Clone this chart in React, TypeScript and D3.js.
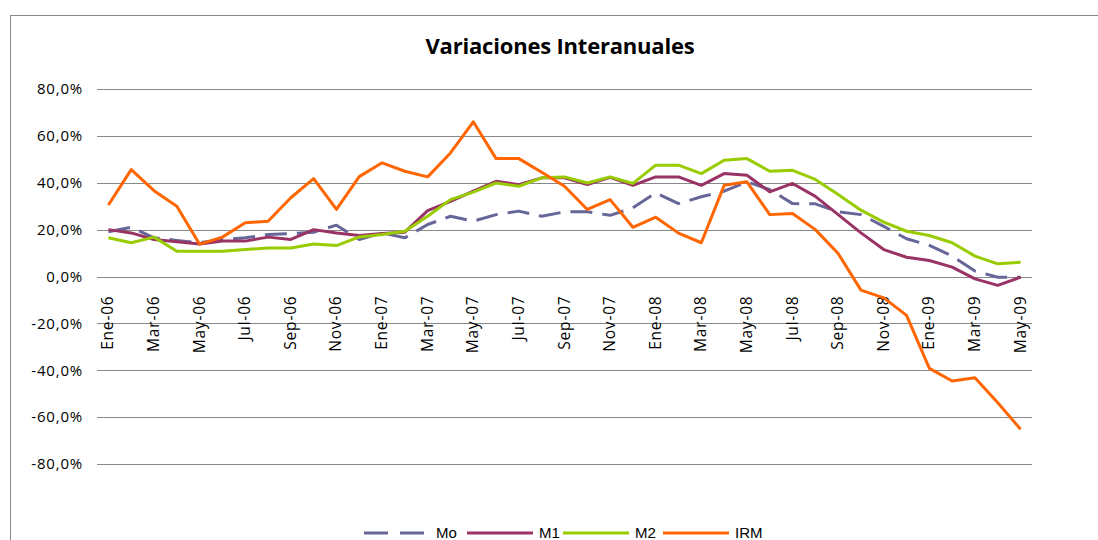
import * as d3 from "d3";

const months = ["Ene", "Feb", "Mar", "Abr", "May", "Jun", "Jul", "Ago", "Sep", "Oct", "Nov", "Dic"];
const years = ["06", "07", "08", "09"];
const categories: string[] = [];
years.forEach((y) => months.forEach((m) => categories.push(`${m}-${y}`)));
categories.splice(41);

const moValues = [
  19.1, 21.0, 16.5, 15.4, 14.4, 15.8, 16.5, 17.9, 18.3, 18.9, 21.9, 15.8,
  18.6, 16.5, 22.2, 25.7, 23.6, 26.4, 27.9, 25.7, 27.6, 27.6, 26.1, 29.3,
  35.7, 31.1, 34.0, 36.4, 40.4, 37.1, 31.1, 31.0, 27.6, 26.4, 21.4, 16.1,
  13.3, 8.7, 2.3, -0.3, -0.3,
];
const m1Values = [
  20.0, 18.6, 15.8, 14.8, 13.9, 15.1, 15.1, 16.8, 15.8, 20.0, 18.6, 17.5,
  18.3, 18.9, 28.1, 32.1, 36.4, 40.6, 39.2, 42.1, 42.1, 39.2, 42.3, 38.9,
  42.5, 42.5, 38.9, 43.9, 43.2, 36.1, 39.7, 34.2, 26.4, 18.6, 11.5, 8.2,
  6.8, 4.0, -1.0, -3.8, -0.3,
];
const m2Values = [
  16.5, 14.4, 16.8, 10.8, 10.8, 10.8, 11.5, 12.2, 12.2, 13.9, 13.2, 16.9,
  17.9, 19.3, 25.7, 32.8, 36.0, 39.9, 38.5, 42.1, 42.5, 39.9, 42.5, 39.7,
  47.5, 47.5, 43.9, 49.6, 50.3, 44.9, 45.3, 41.4, 35.0, 28.3, 23.2, 19.3,
  17.5, 14.4, 8.7, 5.4, 6.1,
];
const irmValues = [
  30.5, 45.6, 36.6, 30.0, 13.8, 16.8, 22.9, 23.6, 33.6, 41.8, 28.6, 42.6,
  48.5, 44.9, 42.5, 52.7, 66.0, 50.3, 50.3, 44.5, 38.5, 28.6, 32.8, 21.0,
  25.3, 18.5, 14.4, 38.9, 40.4, 26.4, 26.9, 20.0, 9.8, -5.8, -9.1, -16.6,
  -39.2, -44.6, -43.2, -53.9, -65.2,
];
const yTicks = [80, 60, 40, 20, 0, -20, -40, -60, -80];

const series = [
  { name: "Mo", values: moValues, color: "#666699", dash: "22,10" },
  { name: "M1", values: m1Values, color: "#993366", dash: "" },
  { name: "M2", values: m2Values, color: "#99CC00", dash: "" },
  { name: "IRM", values: irmValues, color: "#FF6600", dash: "" },
];

const W = 1098;
const H = 540;
const plot = { left: 97, right: 1032, top: 89, bottom: 464 };

export default function App() {
  const x = d3.scalePoint<string>().domain(categories).range([plot.left, plot.right]).padding(0.5);
  const y = d3.scaleLinear().domain([-80, 80]).range([plot.bottom, plot.top]);
  const line = d3
    .line<number>()
    .x((_, i) => x(categories[i]) as number)
    .y((d) => y(d));
  const fmt = (v: number) => v.toFixed(1).replace(".", ",") + "%";

  const legendX = [364, 467, 563, 663];

  return (
    <svg
      width={W}
      height={H}
      style={{ position: "absolute", left: 0, top: 0, background: "#fff" }}
      fontFamily="'Open Sans', sans-serif"
    >
      <rect x={10.5} y={15.5} width={1200} height={600} fill="#fff" stroke="#888" strokeWidth={1} />
      <text x={560} y={54} textAnchor="middle" fontSize={22} fontWeight="bold" letterSpacing={-0.2} fill="#000">
        Variaciones Interanuales
      </text>

      {yTicks.map((t) => (
        <g key={t}>
          <line x1={plot.left} x2={plot.right} y1={Math.round(y(t)) + 0.5} y2={Math.round(y(t)) + 0.5} stroke="#888" strokeWidth={1} />
          <text x={83} y={y(t)} dy="0.35em" textAnchor="end" fontSize={15} letterSpacing={0.8} fill="#000">
            {fmt(t)}
          </text>
        </g>
      ))}

      {categories.map((c, i) =>
        i % 2 === 0 ? (
          <text
            key={c}
            transform={`translate(${(x(c) as number) + 5},${y(0) + 19}) rotate(-90)`}
            textAnchor="end"
            fontSize={15.5}
            letterSpacing={0.8}
            fill="#000"
          >
            {c}
          </text>
        ) : null
      )}

      {series.map((s) => (
        <path
          key={s.name}
          d={line(s.values) ?? ""}
          fill="none"
          stroke={s.color}
          strokeWidth={3}
          strokeDasharray={s.dash || undefined}
          strokeLinejoin="round"
        />
      ))}

      {series.map((s, i) => (
        <g key={s.name} transform={`translate(${legendX[i]},533)`}>
          <line x1={0} x2={66} y1={0} y2={0} stroke={s.color} strokeWidth={3} strokeDasharray={s.dash ? "24,12" : undefined} />
          <text x={72} y={0} dy="0.36em" fontSize={15} fontFamily="'Liberation Sans', Arial, sans-serif" fill="#000">
            {s.name}
          </text>
        </g>
      ))}
    </svg>
  );
}
